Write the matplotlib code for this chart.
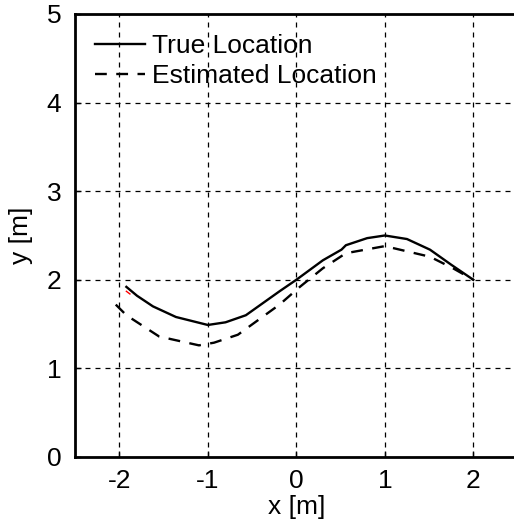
import matplotlib
matplotlib.use('Agg')
import matplotlib.pyplot as plt

# True path
true_x = [-1.92, -1.8, -1.62, -1.36, -1.0, -0.8, -0.57, -0.19, 0.0, 0.3, 0.51, 0.56, 0.8, 1.0, 1.25, 1.51, 1.75, 2.0]
true_y = [1.92, 1.82, 1.70, 1.58, 1.49, 1.52, 1.60, 1.87, 2.0, 2.22, 2.34, 2.39, 2.47, 2.50, 2.46, 2.34, 2.17, 2.0]

# Estimated path
est_x = [-2.04, -1.92, -1.55, -1.1, -0.93, -0.66, -0.19, 0.04, 0.3, 0.56, 1.0, 1.51, 1.77, 2.0]
est_y = [1.72, 1.60, 1.36, 1.26, 1.29, 1.38, 1.72, 1.92, 2.13, 2.30, 2.38, 2.26, 2.13, 2.0]

# tiny red mark near the start
red_x = [-1.92, -1.88]
red_y = [1.87, 1.84]

plt.rcParams['font.family'] = ['Liberation Sans', 'DejaVu Sans']
plt.rcParams['axes.unicode_minus'] = False

fig = plt.figure(figsize=(5.14, 5.28), dpi=100)
ax = fig.add_axes([0.146, 0.1345, 0.861, 0.839])

ax.plot(true_x, true_y, color='black', linewidth=1.7, label='True Location')
ax.plot(est_x, est_y, color='black', linestyle=(0, (5, 4)), linewidth=1.7, label='Estimated Location')
ax.plot(red_x, red_y, color='red', linewidth=1.0)

ax.set_xlim(-2.5, 2.5)
ax.set_ylim(0, 5)
ax.set_xticks([-2, -1, 0, 1, 2])
ax.set_yticks([0, 1, 2, 3, 4, 5])
ax.grid(True, color='black', linestyle=(0, (4, 4)), linewidth=0.9)
ax.tick_params(direction='in', length=4, width=1, labelsize=19)
ax.tick_params(axis='x', pad=9)
ax.tick_params(axis='y', pad=10)
for s in ax.spines.values():
    s.set_linewidth(2)

ax.set_xlabel('x [m]', fontsize=19, labelpad=1)
ax.set_ylabel('y [m]', fontsize=19, labelpad=10)

ax.legend(loc='upper left', frameon=False, fontsize=19, handlelength=1.9,
          handletextpad=0.25, borderaxespad=0.3, labelspacing=0.25,
          borderpad=0.45)

fig.savefig('out.png', dpi=100)
